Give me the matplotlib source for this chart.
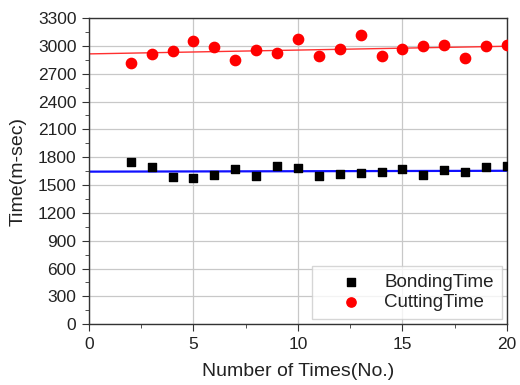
import numpy as np
import matplotlib
matplotlib.use("Agg")
import matplotlib.pyplot as plt
from matplotlib.ticker import MultipleLocator

plt.rcParams['font.family'] = ['Liberation Sans', 'DejaVu Sans']

runs = np.arange(2, 21)
bonding = [1750, 1697, 1592, 1578, 1607, 1675, 1600, 1700, 1682, 1596,
           1621, 1625, 1646, 1668, 1610, 1661, 1643, 1690, 1700]
cutting = [2811, 2908, 2948, 3052, 2987, 2847, 2959, 2919, 3073, 2887,
           2970, 3120, 2894, 2970, 2995, 3009, 2872, 2995, 3012]

fig = plt.figure(figsize=(5.2, 3.85), dpi=100)
ax = fig.add_axes([0.171, 0.158, 0.804, 0.795])

# linear fits drawn across the whole x range
xf = np.array([0, 20])
pb = np.polyfit(runs, bonding, 1)
pc = np.polyfit(runs, cutting, 1)
ax.plot(xf, np.polyval(pb, xf), color='#1010ff', lw=1.6, zorder=2)
ax.plot(xf, np.polyval(pc, xf), color='#ff3030', lw=1.0, zorder=2)

ax.scatter(runs, bonding, marker='s', s=34, color='black', label='BondingTime', zorder=3)
ax.scatter(runs, cutting, marker='o', s=55, color='#ff0000', label='CuttingTime', zorder=3)

ax.set_xlim(0, 20)
ax.set_ylim(0, 3300)
ax.xaxis.set_major_locator(MultipleLocator(5))
ax.xaxis.set_minor_locator(MultipleLocator(2.5))
ax.yaxis.set_major_locator(MultipleLocator(300))
ax.yaxis.set_minor_locator(MultipleLocator(150))
ax.tick_params(which='both', direction='out', labelsize=12.5, color='#333333',
               labelcolor='#222222')
ax.tick_params(which='major', length=5, pad=4)
ax.tick_params(which='minor', length=3)
ax.grid(True, which='major', color='#c8c8c8', lw=0.9)
ax.set_axisbelow(True)
for s in ax.spines.values():
    s.set_color('#333333')
    s.set_linewidth(1.0)

ax.set_xlabel('Number of Times(No.)', fontsize=14, color='#222222', labelpad=8)
ax.set_ylabel('Time(m-sec)', fontsize=14, color='#222222', labelpad=8)

leg = ax.legend(loc='lower right', fontsize=13.5, frameon=True, fancybox=False,
                edgecolor='#cccccc', borderaxespad=0.25, handletextpad=0.2,
                handlelength=3.2, borderpad=0.45, labelspacing=0.15, markerscale=0.9)
leg.get_frame().set_linewidth(1.0)
for t in leg.get_texts():
    t.set_color('#222222')

fig.savefig('out.png', dpi=100)
